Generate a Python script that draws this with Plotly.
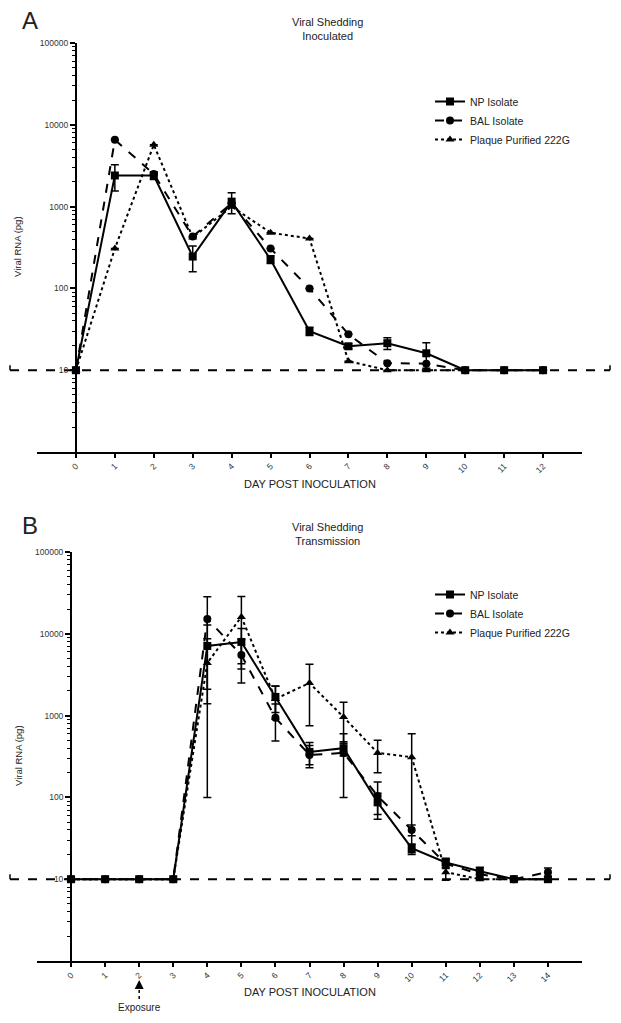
import plotly.graph_objects as go

# Panel A - inoculated animals
days_a = [0, 1, 2, 3, 4, 5, 6, 7, 8, 9, 10, 11, 12]
np_a = [10, 2400, 2400, 245, 1150, 226, 30, 19.6, 21.4, 16.1, 10, 10, 10]
np_a_err = [0, 850, 250, 85, 330, 25, 3.5, 1.5, 3.5, 5.5, 0, 0, 0]
bal_a = [10, 6560, 2500, 430, 1100, 307, 100, 27.5, 12.2, 12, 10, 10, 10]
bal_a_err = [0] * 13
plaque_a = [10, 307, 5700, 420, 1000, 480, 407, 12.9, 10, 10, 10]
plaque_a_err = [0] * 11

# Panel B - transmission animals
days_b = [0, 1, 2, 3, 4, 5, 6, 7, 8, 9, 10, 11, 12, 13, 14]
np_b = [10, 10, 10, 10, 7100, 7950, 1690, 360, 400, 87, 24, 16, 12.5, 10, 10]
np_b_err = [0, 0, 0, 0, 5700, 3650, 600, 110, 80, 25, 3, 2, 1.5, 0, 0]
bal_b = [10, 10, 10, 10, 15200, 5500, 940, 330, 350, 104, 40, 15.5, 11.5, 10, 12.2]
bal_b_err = [0, 0, 0, 0, 13100, 3000, 450, 100, 250, 50, 6, 2, 1, 0, 1.5]
plaque_b = [10, 10, 10, 10, 4400, 16100, 1600, 2500, 960, 350, 310, 12.2, 10, 10, 10]
plaque_b_err = [0, 0, 0, 0, 4300, 12400, 700, 1750, 500, 150, 290, 2.5, 0, 0, 0]

series_names = ["NP Isolate", "BAL Isolate", "Plaque Purified 222G"]
y_tick_vals = [10, 100, 1000, 10000, 100000]
y_tick_text = ["10", "100", "1000", "10000", "100000"]
y_minor_vals = [m * 10 ** d for d in range(5) for m in range(2, 10)]
detection_limit = 10
exposure_day = 2

# page body adds an 8px margin, so the figure is shrunk and positions offset
OFF = 8
W, H = 621 - OFF, 1023 - OFF
FONT = "Liberation Sans, Arial, sans-serif"
styles = [("solid", "square", 8), ("dash", "circle", 8), ("dot", "triangle-up", 8)]

fig = go.Figure()


def px_x(p):
    return (p - OFF) / W


def px_y(p):
    return 1 - (p - OFF) / H


def add_panel(idx, days, series, errs, x_max, top_px, bot_px, legend_top):
    xa = "x" if idx == 1 else "x2"
    ya = "y" if idx == 1 else "y2"
    leg = "legend" if idx == 1 else "legend2"
    for name, (dash, sym, size), vals, err in zip(series_names, styles, series, errs):
        fig.add_trace(go.Scatter(
            x=days[:len(vals)], y=vals, name=name, mode="lines+markers",
            xaxis=xa, yaxis=ya, legend=leg,
            line=dict(color="black", width=2, dash=dash),
            marker=dict(symbol=sym, size=size, color="black"),
            error_y=dict(type="data", array=err, symmetric=True, color="black",
                         thickness=1.5, width=4),
        ))
    dom_x = [px_x(37), px_x(582)]
    xa_key = "xaxis" if idx == 1 else "xaxis2"
    ya_key = "yaxis" if idx == 1 else "yaxis2"
    y_pos = dom_x[0] + (0 - (-1)) / (x_max + 1) * (dom_x[1] - dom_x[0])
    fig.update_layout(**{
        xa_key: dict(domain=dom_x, range=[-1, x_max], anchor=ya, automargin=False,
                     tickvals=list(range(0, x_max)), tickangle=-45,
                     ticks="outside", ticklen=4, tickwidth=1.5, tickcolor="black",
                     showline=True, linecolor="black", linewidth=2,
                     showgrid=False, zeroline=False,
                     tickfont=dict(size=8.5, color="#333", family=FONT)),
        ya_key: dict(domain=[px_y(bot_px), px_y(top_px)], type="log", range=[0, 5],
                     anchor="free", position=y_pos, automargin=False,
                     tickvals=y_tick_vals, ticktext=y_tick_text,
                     ticks="outside", ticklen=5, tickwidth=1.5, tickcolor="black",
                     minor=dict(tickmode="array", tickvals=y_minor_vals,
                                ticks="outside", ticklen=3, tickcolor="black",
                                tickwidth=1, showgrid=False),
                     showline=True, linecolor="black", linewidth=2,
                     showgrid=False, zeroline=False,
                     tickfont=dict(size=8.5, color="#333", family=FONT)),
    })
    # detection limit line, extending beyond the axes, with end caps
    fig.add_shape(type="line", xref="paper", yref=ya, x0=px_x(10), x1=px_x(610),
                  y0=detection_limit, y1=detection_limit, layer="below",
                  line=dict(color="black", width=2, dash="dash"))
    for xe in (px_x(10), px_x(610)):
        fig.add_shape(type="line", xref="paper", yref=ya, ysizemode="pixel",
                      yanchor=detection_limit, x0=xe, x1=xe, y0=-5, y1=5,
                      line=dict(color="black", width=1.5))
    fig.update_layout(**{leg: dict(x=px_x(430), y=px_y(legend_top), xanchor="left",
                                   yanchor="top", bgcolor="rgba(0,0,0,0)",
                                   font=dict(size=10.5, color="#222", family=FONT),
                                   tracegroupgap=0)})


add_panel(1, days_a, [np_a, bal_a, plaque_a], [np_a_err, bal_a_err, plaque_a_err],
          13, 43, 452, 87)
add_panel(2, days_b, [np_b, bal_b, plaque_b], [np_b_err, bal_b_err, plaque_b_err],
          15, 552, 961, 580)


def label(text, x, y, size, xref="paper", angle=0):
    return dict(text=text, x=x, y=px_y(y), xref=xref, yref="paper", showarrow=False,
                xanchor="center", yanchor="middle", textangle=angle,
                font=dict(size=size, color="#222", family=FONT))


ann = []
for letter, ly, t1, t2, ty, xt_y, yl_y in [("A", 20, "Viral Shedding", "Inoculated", 29, 484, 247),
                                           ("B", 525, "Viral Shedding", "Transmission", 534, 992, 756)]:
    ann.append(label(letter, px_x(30), ly, 24))
    ann.append(label(t1 + "<br>" + t2, px_x(327), ty, 11))
    ann.append(label("DAY POST INOCULATION", px_x(310), xt_y, 11))
    ann.append(label("Viral RNA (pg)", px_x(18), yl_y, 9.5, angle=-90))

# exposure marker
ann.append(label("Exposure", exposure_day, 1007, 10, xref="x2"))
ann.append(dict(text="", x=exposure_day, xref="x2", y=px_y(980), yref="paper",
                showarrow=True, ax=0, ay=8, arrowhead=2, arrowsize=1.2,
                arrowwidth=1.5, arrowcolor="black", standoff=0))
fig.add_shape(type="line", xref="x2", yref="paper", x0=exposure_day, x1=exposure_day,
              y0=px_y(999), y1=px_y(986), line=dict(color="black", width=1.5, dash="dot"))

fig.update_layout(width=W, height=H, margin=dict(l=0, r=0, t=0, b=0),
                  paper_bgcolor="white", plot_bgcolor="white",
                  annotations=ann, font=dict(family=FONT))

fig.write_html("out.html")
